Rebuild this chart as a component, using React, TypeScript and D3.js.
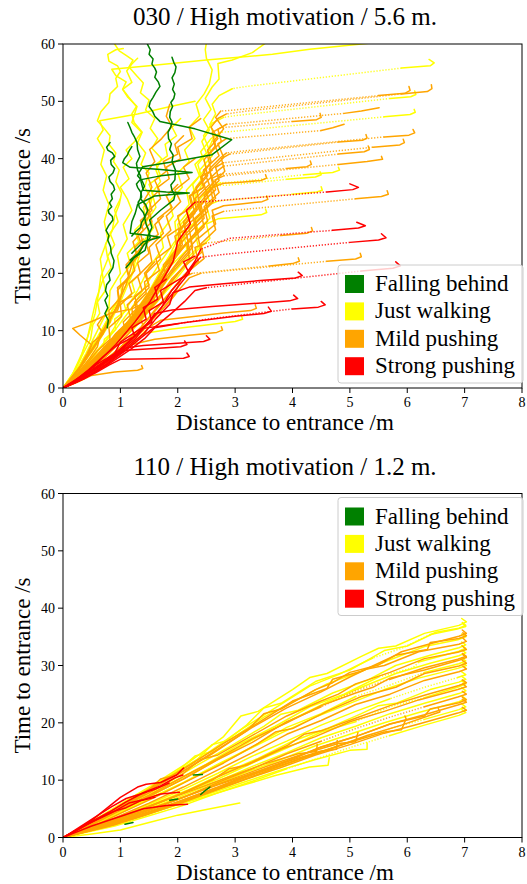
import React from 'react';
import * as d3 from 'd3';

type Track = [string, number, number, number[][]];

const categoryKeys = ['G', 'Y', 'O', 'R'];
const categoryNames = ['Falling behind', 'Just walking', 'Mild pushing', 'Strong pushing'];
const categoryColors = ['#008000', '#ffff00', '#ffa500', '#ff0000'];
const xTicks = [0, 1, 2, 3, 4, 5, 6, 7, 8];
const yTicks = [0, 10, 20, 30, 40, 50, 60];
const panelTitles = ['030 / High motivation / 5.6 m.', '110 / High motivation / 1.2 m.'];
const xLabel = 'Distance to entrance /m';
const yLabel = 'Time to entrance /s';

// [category, dotted-from index, dotted-to index, [distance m, time s]...]
const topTracks: Track[] = [
  ['Y', 3, 5, [[6.38,57.3],[6.47,56.7],[6.4,56.2],[5.9,55.8],[3.2,52.6],[2.95,52.2],[2.72,51.0],[2.6,49.5],[2.66,47.8],[2.56,46],[2.64,44],[2.55,42],[2.6,40.5],[2.38,38],[2.42,35.5],[2.3,33],[2.12,29],[2.0,26],[1.85,23],[1.6,18.5],[1.35,14],[1.0,9.5],[0.6,5],[0.25,2],[0,0]]],
  ['O', 3, 5, [[6.42,52.9],[6.43,52.2],[6.35,51.7],[5.9,51.3],[3.2,48.3],[2.85,47.8],[2.7,47.0],[2.58,45.5],[2.7,43.5],[2.52,41.5],[2.58,39.5],[2.42,37],[2.45,35],[2.22,33.5],[2.3,30.5],[2.0,27],[2.05,24.5],[1.78,21],[1.55,17],[1.25,12.5],[0.85,8],[0.45,3.5],[0,0]]],
  ['O', 3, 5, [[6.03,52.6],[6.05,51.9],[5.96,51.4],[5.5,51.0],[3.0,48.5],[2.75,48.3],[2.66,47.2],[2.8,45.2],[2.62,43],[2.72,40.5],[2.45,38],[2.55,35.5],[2.3,33],[2.4,30.5],[2.12,28],[2.18,25.5],[1.9,22.5],[1.72,19],[1.42,14.5],[1.05,9.5],[0.65,5.2],[0.28,2],[0,0]]],
  ['Y', 3, 5, [[6.13,51.8],[6.15,51.2],[6.06,50.8],[5.7,50.5],[3.0,47.5],[2.8,47.2],[2.6,46.2],[2.45,44],[2.55,41.5],[2.35,39],[2.42,36.5],[2.25,34],[2.32,31.5],[2.05,28.5],[2.1,26],[1.82,22.5],[1.58,18],[1.28,13],[0.88,7.5],[0.42,3],[0,0]]],
  ['O', 2, 4, [[5.51,48.9],[5.2,48.3],[4.9,47.9],[3.1,46.2],[2.85,46.0],[2.7,45.1],[2.76,43],[2.52,40.5],[2.58,38],[2.32,35],[2.38,32],[2.1,29],[2.16,26.5],[1.88,23],[1.62,18.5],[1.32,14],[0.98,9.5],[0.58,5],[0.22,1.6],[0,0]]],
  ['Y', 3, 5, [[6.12,48.6],[6.14,48.1],[6.05,47.7],[5.6,47.3],[3.0,44.8],[2.75,44.6],[2.58,43.5],[2.4,41.2],[2.5,38.5],[2.26,35.5],[2.33,32.5],[2.0,28.5],[2.06,25.5],[1.76,21.5],[1.48,16.5],[1.12,11.5],[0.72,6.5],[0.32,2.5],[0,0]]],
  ['O', 3, 5, [[4.48,47.9],[4.5,47.2],[4.42,46.8],[4.0,46.5],[3.0,45.6],[2.75,45.4],[2.6,44.6],[2.66,42.3],[2.46,39.8],[2.52,37],[2.26,34],[2.33,31],[2.02,27.5],[2.08,25],[1.8,21.5],[1.52,17],[1.22,12.5],[0.82,8],[0.4,3.5],[0,0]]],
  ['O', 2, 4, [[4.9,46.0],[4.7,45.4],[4.5,44.9],[3.1,43.7],[2.85,43.5],[2.7,42.6],[2.8,40.2],[2.56,37.8],[2.62,35],[2.36,32],[2.12,28.5],[2.18,25.5],[1.86,21.5],[1.6,17.5],[1.32,13.5],[0.96,9.2],[0.56,5],[0.2,1.8],[0,0]]],
  ['O', 3, 5, [[6.1,45.1],[6.13,44.5],[6.03,44.1],[5.6,43.8],[3.1,41.3],[2.85,41.0],[2.75,40.2],[2.55,38.2],[2.62,35.8],[2.36,33],[2.42,30],[2.06,26],[1.92,22],[1.62,18],[1.36,14],[1.02,9.5],[0.62,5.2],[0.26,2],[0,0]]],
  ['O', 3, 5, [[5.28,44.2],[5.3,43.6],[5.22,43.2],[4.8,42.9],[3.1,41.0],[2.9,40.8],[2.76,40.0],[2.82,37.8],[2.56,35.2],[2.62,32.5],[2.3,29.3],[2.36,26.3],[2.06,22.8],[1.76,18.8],[1.5,15.2],[1.16,10.8],[0.76,6.6],[0.36,2.6],[0,0]]],
  ['O', 3, 5, [[5.93,43.4],[5.95,42.8],[5.87,42.4],[5.4,42.0],[3.0,39.5],[2.8,39.3],[2.66,38.5],[2.72,36.2],[2.46,33.6],[2.52,30.8],[2.2,27.6],[2.26,24.6],[1.96,21.2],[1.7,17.2],[1.4,13.2],[1.06,9.2],[0.66,5.2],[0.3,2],[0,0]]],
  ['O', 3, 5, [[5.32,42.2],[5.34,41.6],[5.25,41.2],[4.8,40.8],[3.0,38.9],[2.8,38.7],[2.7,37.9],[2.46,35.6],[2.52,33.2],[2.26,30.2],[2.32,27.2],[2.0,23.6],[1.82,20.2],[1.56,16.2],[1.26,12.2],[0.9,8.2],[0.5,4.2],[0.2,1.5],[0,0]]],
  ['O', 3, 5, [[5.55,40.4],[5.57,39.9],[5.3,39.5],[4.8,39.0],[3.0,37.2],[2.8,37.0],[2.65,36.3],[2.72,34.1],[2.46,31.6],[2.52,29.1],[2.22,26.1],[2.27,23.2],[1.96,19.6],[1.72,16.1],[1.42,12.6],[1.06,8.6],[0.66,4.6],[0.3,1.8],[0,0]]],
  ['O', 3, 5, [[4.31,39.6],[4.33,39.0],[4.25,38.6],[3.9,38.3],[2.95,37.4],[2.75,37.3],[2.6,36.6],[2.66,34.6],[2.4,32.1],[2.46,29.6],[2.16,26.6],[2.21,23.6],[1.9,20.1],[1.62,16.6],[1.36,13.1],[1.0,9.1],[0.6,5.1],[0.25,2],[0,0]]],
  ['Y', 3, 5, [[4.8,38.5],[4.82,38.0],[4.7,37.6],[4.2,37.2],[2.95,35.9],[2.75,35.8],[2.56,35.0],[2.36,32.6],[2.42,30.1],[2.1,27.1],[2.16,24.1],[1.86,21.1],[1.6,17.6],[1.3,13.6],[1.0,9.6],[0.6,5.6],[0.25,2],[0,0]]],
  ['Y', 3, 5, [[4.48,37.7],[4.5,37.2],[4.4,36.8],[3.9,36.4],[2.9,35.4],[2.7,35.3],[2.5,34.5],[2.56,32.1],[2.3,29.6],[2.36,27.1],[2.06,24.1],[1.8,20.6],[1.56,17.1],[1.26,13.1],[0.96,9.1],[0.56,5.1],[0.2,1.5],[0,0]]],
  ['O', -1, -1, [[3.53,37.2],[3.55,36.6],[3.45,36.2],[3.1,35.9],[2.8,35.7],[2.6,35.0],[2.66,33.1],[2.4,30.6],[2.46,28.1],[2.16,25.1],[2.21,22.1],[1.9,19.1],[1.66,15.6],[1.36,12.1],[1.0,8.6],[0.6,4.6],[0.25,1.8],[0,0]]],
  ['R', 3, 5, [[5.0,35.6],[5.15,35.0],[5.05,34.6],[4.6,34.2],[2.6,32.6],[2.3,32.4],[2.15,31.0],[2.22,28.6],[2.0,25.6],[1.92,22.1],[1.72,18.6],[1.52,15.1],[1.26,11.6],[0.92,7.6],[0.52,3.6],[0.2,1.2],[0,0]]],
  ['Y', 3, 5, [[4.5,35.1],[4.52,34.5],[4.42,34.2],[4.0,33.8],[2.9,32.8],[2.7,32.6],[2.5,31.8],[2.56,29.6],[2.3,27.1],[2.36,24.6],[2.06,21.6],[1.8,18.6],[1.56,15.1],[1.26,11.6],[0.9,7.6],[0.5,3.6],[0.2,1.2],[0,0]]],
  ['O', 3, 5, [[5.65,34.4],[5.67,33.8],[5.55,33.4],[5.1,33.0],[3.0,31.0],[2.8,30.8],[2.6,30.0],[2.66,27.6],[2.4,25.1],[2.46,22.6],[2.16,20.1],[1.9,17.1],[1.66,14.1],[1.36,10.6],[1.0,7.1],[0.6,3.6],[0.25,1.2],[0,0]]],
  ['O', -1, -1, [[3.55,33.5],[3.57,32.9],[3.47,32.5],[3.1,32.1],[2.8,31.8],[2.6,31.0],[2.66,28.6],[2.36,26.1],[2.41,23.6],[2.1,21.1],[1.86,18.1],[1.6,15.1],[1.3,11.6],[0.96,8.1],[0.56,4.1],[0.2,1.4],[0,0]]],
  ['Y', -1, -1, [[3.53,31.2],[3.55,30.6],[3.45,30.2],[3.0,29.8],[2.7,29.5],[2.5,28.6],[2.56,26.1],[2.3,23.6],[2.1,20.6],[1.86,17.6],[1.56,14.1],[1.26,10.6],[0.9,7.1],[0.5,3.6],[0.2,1.2],[0,0]]],
  ['R', 3, 5, [[5.12,28.9],[5.27,28.3],[5.15,27.9],[4.7,27.5],[2.9,26.1],[2.4,24.2],[2.3,22.1],[2.12,19.6],[1.9,17.1],[1.72,14.1],[1.46,11.1],[1.16,8.1],[0.8,5.1],[0.4,2.2],[0,0]]],
  ['O', 3, 5, [[4.33,28.0],[4.35,27.4],[4.25,27.0],[3.8,26.6],[2.7,25.5],[2.5,25.3],[2.3,24.5],[2.36,22.1],[2.1,19.6],[1.86,16.6],[1.6,13.6],[1.36,10.6],[1.0,7.1],[0.6,3.8],[0.25,1.3],[0,0]]],
  ['R', 3, 5, [[5.55,26.9],[5.63,26.2],[5.5,25.8],[5.0,25.4],[2.8,23.3],[2.4,22.8],[2.3,21.8],[2.16,19.6],[1.96,17.1],[1.76,14.6],[1.56,12.1],[1.3,9.6],[1.0,6.6],[0.6,3.5],[0.25,1.2],[0,0]]],
  ['O', 3, 5, [[5.18,23.5],[5.2,22.9],[5.1,22.5],[4.6,22.1],[2.7,20.3],[2.4,20.0],[2.2,19.2],[2.02,17.1],[1.86,15.1],[1.62,12.6],[1.4,10.1],[1.1,7.6],[0.76,4.6],[0.36,1.8],[0,0]]],
  ['O', 3, 5, [[4.1,22.7],[4.12,22.1],[4.0,21.7],[3.6,21.3],[2.5,20.2],[2.25,20.0],[2.06,19.1],[1.96,16.6],[1.76,14.1],[1.52,11.6],[1.26,9.1],[0.96,6.6],[0.6,3.8],[0.25,1.3],[0,0]]],
  ['R', 3, 5, [[5.8,22.0],[5.88,21.3],[5.75,20.9],[5.2,20.4],[2.9,17.9],[2.5,17.5],[2.3,17.0],[2.12,15.1],[1.9,13.1],[1.66,11.1],[1.4,9.1],[1.1,6.6],[0.76,4.1],[0.36,1.6],[0,0]]],
  ['R', -1, -1, [[4.1,20.2],[4.17,19.6],[4.05,19.2],[3.5,18.8],[2.8,18.2],[2.2,17.6],[1.92,16.6],[1.86,14.6],[1.62,12.1],[1.42,9.6],[1.12,7.1],[0.76,4.2],[0.36,1.6],[0,0]]],
  ['R', -1, -1, [[4.02,16.2],[4.09,15.6],[3.95,15.2],[3.4,14.8],[2.6,14.2],[1.9,13.6],[1.6,13.0],[1.46,11.1],[1.26,8.6],[0.96,6.1],[0.6,3.5],[0.25,1.2],[0,0]]],
  ['R', 3, 5, [[4.5,15.1],[4.57,14.5],[4.45,14.1],[4.0,13.8],[2.5,12.0],[2.0,11.2],[1.6,10.5],[1.42,8.6],[1.16,6.6],[0.8,4.2],[0.4,1.8],[0,0]]],
  ['O', -1, -1, [[3.35,14.5],[3.37,13.9],[3.27,13.5],[2.8,13.1],[2.2,12.4],[1.7,11.8],[1.5,10.6],[1.3,8.6],[1.0,6.1],[0.66,3.5],[0.3,1.3],[0,0]]],
  ['R', -1, -1, [[3.58,14.1],[3.63,13.4],[3.5,13.0],[3.0,12.5],[2.2,11.5],[1.4,10.4],[1.22,8.8],[1.0,6.8],[0.7,4.5],[0.35,2],[0,0]]],
  ['Y', -1, -1, [[3.11,12.6],[3.13,12.0],[3.0,11.6],[2.5,11.0],[1.9,10.3],[1.4,9.5],[1.2,7.8],[0.96,5.8],[0.6,3.5],[0.25,1.3],[0,0]]],
  ['O', -1, -1, [[2.76,10.7],[2.78,10.1],[2.68,9.7],[2.2,9.2],[1.6,8.5],[1.2,7.6],[1.0,6.0],[0.76,4.2],[0.46,2.5],[0.15,0.8],[0,0]]],
  ['R', -1, -1, [[2.5,9.1],[2.56,8.5],[2.45,8.1],[2.0,7.8],[1.4,7.4],[1.1,7.0],[0.9,5.5],[0.66,3.8],[0.36,2],[0,0]]],
  ['R', -1, -1, [[2.12,8.2],[2.16,7.6],[2.05,7.2],[1.6,6.9],[1.1,6.6],[0.86,5.4],[0.6,3.8],[0.3,1.8],[0,0]]],
  ['R', -1, -1, [[2.16,6.1],[2.2,5.5],[2.1,5.2],[1.6,5.1],[1.0,5.0],[0.8,4.0],[0.56,2.6],[0.25,1.1],[0,0]]],
  ['O', -1, -1, [[1.37,3.9],[1.39,3.4],[1.3,3.1],[0.9,2.8],[0.5,2.2],[0.25,1.0],[0,0]]],
  // green (falling behind)
  ['G', -1, -1, [[1.45,60.5],[1.48,59.8],[1.52,59.0],[1.5,58.2],[1.57,57.4],[1.55,56.5],[1.6,55.8],[1.63,55.1],[1.6,54.2],[1.66,53.4],[1.69,52.6],[1.62,51.6],[1.57,50.7],[1.52,49.9],[1.5,49.1],[1.56,48.3],[1.6,47.4],[1.69,46.5],[2.3,45.2],[2.94,43.3],[2.6,40.7],[2.0,39.6],[1.39,38.6],[1.34,37.8],[1.3,37.0],[1.38,36.1],[1.42,35.2],[1.36,34.1],[1.35,33.0],[1.44,32.0],[1.48,31.0],[1.42,29.8],[1.45,28.5],[1.5,27.4],[1.52,26.2],[1.4,24.8],[1.32,23.5],[1.17,22.3]]],
  ['G', -1, -1, [[1.9,57.7],[1.93,56.8],[1.97,56.0],[1.95,55.0],[1.9,54.1],[1.94,53.0],[1.91,52.1],[1.95,51.3],[1.93,50.5],[1.88,49.8],[1.91,49.1],[1.87,48.2],[1.86,47.2],[1.9,46.4],[1.88,45.6],[1.83,44.6],[1.84,43.5],[1.89,42.6],[1.86,41.6],[1.92,40.6],[1.9,39.5],[1.96,38.0],[1.95,36.3],[1.88,35.4],[1.9,34.5],[1.95,33.6],[1.93,32.8],[1.7,31],[1.51,29.3],[1.55,28],[1.48,26.5],[1.46,25.2],[1.43,24.0],[1.25,22.8],[1.1,21]]],
  ['G', -1, -1, [[0.82,42.8],[0.76,42.0],[0.78,41.5],[0.86,41.0],[0.9,40.4],[0.83,39.7],[0.84,39],[0.9,38.3],[0.87,37.5],[0.8,36.8],[0.82,36],[0.88,35.3],[0.9,34.6],[0.84,33.8],[0.86,33],[0.81,32.3],[0.85,31.6],[0.79,31.0],[0.8,30.5],[0.86,29.9],[0.87,29.3],[0.8,28.4],[0.75,27.5],[0.8,26.6],[0.78,25.8],[0.83,24.6],[0.84,23.5],[0.89,22.2],[0.87,21],[0.8,19.8],[0.82,18.8],[0.76,18],[0.74,17],[0.78,16.1],[0.73,15.3],[0.78,14],[0.73,13],[0.79,11.8],[0.77,10.5]]],
  ['G', -1, -1, [[1.2,42.1],[1.15,41.3],[1.12,40.6],[1.07,40.0],[1.04,39.3],[1.17,38.5],[1.7,38.1],[2.25,37.6],[1.7,37.0],[1.34,36.3],[1.28,35.6],[1.3,35],[1.36,34.1],[1.37,33.3],[1.31,32.4],[1.33,31.5],[1.4,30.6],[1.43,29.8],[1.37,28.9],[1.35,28],[1.26,27.2],[1.2,26.5]]],
  ['G', -1, -1, [[1.13,46.3],[1.17,45.4],[1.2,44.6],[1.25,43.7],[1.29,42.8],[1.3,41.6],[1.34,40.4],[1.28,39.2],[1.3,38.0],[1.35,37.0],[1.36,36],[1.4,34.5],[1.8,34.2],[2.2,34.0],[1.6,33.5],[1.3,32],[1.26,30.5],[1.2,29],[1.17,27],[1.5,26.6],[1.69,26.3],[1.4,25.5],[1.2,23.5]]],
  // yellow tracks near the top left
  ['Y', -1, -1, [[1.05,59.2],[0.92,59.0],[0.78,58.2],[0.8,57.0],[0.95,56.2],[1.0,55.2],[0.92,54],[0.95,52.6],[0.82,51.3],[0.8,49.8],[0.66,48.2],[0.6,46.6],[0.7,45.5],[0.82,44],[0.8,42.5],[0.92,41],[0.88,39.5],[0.98,38],[0.92,36],[1.02,34],[0.98,32],[0.9,30],[0.86,27.5],[0.74,25],[0.78,22.5],[0.66,19.5],[0.62,16.5],[0.56,13],[0.45,9.5],[0.33,6],[0.17,2.5],[0,0]]],
  ['Y', -1, -1, [[5.4,60.2],[4.3,59.1],[3.65,58.2],[2.5,57.2],[1.5,56.2],[0.85,55.6],[0.92,54.5],[1.1,53.4],[1.04,52.1],[1.14,50.8],[1.28,49.1],[1.2,47.8],[1.24,46.3],[1.38,44.6],[1.3,42.8],[1.44,41],[1.36,39],[1.5,37.5],[1.42,35],[1.55,33],[1.48,30.5],[1.58,28],[1.4,25.5],[1.3,22],[1.15,18.5],[1.0,15],[0.8,11],[0.55,7],[0.3,3.5],[0,0]]],
  ['Y', -1, -1, [[3.55,60.3],[3.3,58.5],[2.95,57.2],[2.7,56.6],[2.72,53.9],[2.6,52.5],[2.48,50.5],[2.58,48.6],[2.45,46.8],[2.55,45],[2.42,43],[2.5,41],[2.3,39],[2.38,37],[2.15,34.5],[2.2,32],[1.95,29],[1.98,26],[1.7,22],[1.45,18],[1.2,14],[0.9,10],[0.55,6],[0.25,2.5],[0,0]]],
  ['Y', -1, -1, [[2.5,60.3],[2.48,59],[2.5,57.5],[2.6,55.5],[2.55,53],[2.46,51.3],[2.32,49.5],[2.38,47.5],[2.2,45.5],[2.3,43.5],[2.12,41.5],[2.2,39.5],[2.0,37.5],[2.08,35],[1.85,32.5],[1.92,30],[1.7,27],[1.75,24.5],[1.5,21],[1.3,17],[1.05,13],[0.8,9],[0.5,5],[0.2,1.8],[0,0]]],
  ['Y', -1, -1, [[1.3,57.5],[1.2,56.5],[1.11,55.3],[1.2,53.3],[1.04,52.1],[1.13,50.7],[1.29,49.1],[1.2,46.3],[1.37,44.6],[1.25,43],[1.1,41.5],[1.2,40],[1.05,38.5],[1.15,36.5],[1.0,35],[1.12,33],[1.2,31],[1.05,28.5],[1.12,26],[0.95,23],[1.0,20],[0.82,17],[0.8,14],[0.6,10],[0.4,6],[0.2,2.5],[0,0]]],
  ['Y', -1, -1, [[0.9,60.0],[0.98,58.8],[1.1,58.0],[1.22,57.2],[1.15,56],[1.28,54.5],[1.4,53.2],[1.35,51.5],[1.5,50.2],[1.44,48.5],[1.6,47],[1.52,45.3],[1.65,43.5],[1.55,41.8],[1.72,40],[1.62,38],[1.7,36],[1.55,34],[1.62,31.5],[1.45,29],[1.5,26.5],[1.3,23.5],[1.2,20],[1.0,16],[0.78,12],[0.55,8],[0.3,4],[0,0]]],
  ['Y', -1, -1, [[2.3,50.0],[1.91,49.2],[1.3,47.8],[0.64,46.6],[0.7,45],[0.6,43.5],[0.72,41.5],[0.66,39],[0.76,37],[0.7,34.5],[0.8,32],[0.72,29],[0.78,26],[0.65,22.5],[0.7,19],[0.58,15.5],[0.5,12],[0.42,8.5],[0.3,5],[0.15,2],[0,0]]],
  ['Y', -1, -1, [[1.0,33],[0.9,31],[0.96,29],[0.82,27],[0.9,25],[0.78,23],[0.84,21],[0.7,19],[0.74,17],[0.6,15],[0.64,13],[0.52,11],[0.48,8.5],[0.35,6],[0.2,3],[0,0]]],
  ['Y', -1, -1, [[2.05,47],[1.9,45.5],[1.98,44],[1.78,42.5],[1.82,40.5],[1.62,39],[1.7,37],[1.5,35.5],[1.58,33.5],[1.4,31.5],[1.45,29.5],[1.25,27.5],[1.32,25.5],[1.12,23.5],[1.18,21.5],[1.0,19],[1.02,16.5],[0.85,13.5],[0.7,10.5],[0.5,7],[0.3,3.5],[0,0]]],
  ['Y', -1, -1, [[1.35,20],[1.2,18.5],[1.25,16.8],[1.05,15.2],[1.1,13.5],[0.9,12],[0.92,10.2],[0.72,8.5],[0.7,6.5],[0.5,4.5],[0.3,2.4],[0,0]]],
  // orange / red tracks inside the crowd
  ['O', -1, -1, [[1.86,49.5],[1.8,47.4],[1.9,45.6],[1.72,43.5],[1.51,41.6],[1.6,39.5],[1.45,37.5],[1.55,35],[1.4,32.5],[1.5,30],[1.3,27],[1.38,24.5],[1.2,21.5],[1.1,18],[0.95,14.5],[0.75,10.5],[0.5,6.5],[0.25,3],[0,0]]],
  ['O', -1, -1, [[2.3,40],[2.1,38.5],[2.2,36.5],[1.95,34.5],[2.05,32.5],[1.8,30],[1.88,27.5],[1.62,25],[1.7,22.5],[1.45,20],[1.5,17.5],[1.25,15],[1.3,12.5],[1.05,10],[0.8,7],[0.5,4],[0.2,1.5],[0,0]]],
  ['O', -1, -1, [[2.0,35.5],[1.8,33.5],[1.9,31.5],[1.65,29.5],[1.75,27],[1.5,24.5],[1.55,22],[1.3,19.5],[1.38,17],[1.12,14.5],[1.18,12],[0.92,9.5],[0.7,6.5],[0.45,3.8],[0.2,1.5],[0,0]]],
  ['O', -1, -1, [[1.5,15.2],[1.2,13.8],[0.82,13.0],[0.5,11.6],[0.17,10.4],[0.3,9.2],[0.5,7.5],[0.4,5],[0.2,2.2],[0,0]]],
  ['O', -1, -1, [[2.2,28],[1.95,26.5],[2.0,24],[1.75,21.5],[1.8,19.5],[1.55,17],[1.6,15],[1.35,12.5],[1.4,10.5],[1.1,8],[0.85,5.5],[0.55,3.2],[0.25,1.2],[0,0]]],
  ['O', -1, -1, [[1.6,22],[1.42,20],[1.5,18],[1.25,16],[1.3,14],[1.05,11.5],[1.1,9.5],[0.85,7],[0.6,4.8],[0.35,2.5],[0,0]]],
  ['O', -1, -1, [[2.4,47],[2.2,45.5],[2.25,43.5],[2.0,42],[2.05,40],[1.8,38.5],[1.85,36.5],[1.65,35],[1.7,33],[1.5,31],[1.55,29],[1.35,27],[1.4,25],[1.2,22.5],[1.25,20.5],[1.05,18],[1.0,15.5],[0.85,12.5],[0.7,9.5],[0.5,6.5],[0.3,3.5],[0.1,1],[0,0]]],
  ['O', -1, -1, [[2.1,44],[1.95,42.5],[2.0,40.8],[1.75,39.5],[1.8,37.8],[1.6,36.2],[1.68,34.5],[1.5,32.8],[1.55,31],[1.35,29.2],[1.4,27.5],[1.22,25.5],[1.28,23.5],[1.1,21.5],[1.15,19.5],[0.95,17],[0.98,14.5],[0.8,12],[0.65,9],[0.45,6],[0.25,3],[0,0]]],
  ['O', -1, -1, [[2.6,38],[2.4,36.8],[2.45,35],[2.2,33.5],[2.25,31.5],[2.0,30],[2.05,28],[1.82,26.5],[1.88,24.5],[1.62,22.5],[1.68,20.5],[1.42,18.5],[1.45,16.5],[1.2,14],[1.22,12],[0.98,10],[0.75,7.5],[0.5,4.8],[0.25,2.2],[0,0]]],
  ['O', -1, -1, [[1.75,30],[1.6,28.5],[1.66,26.8],[1.45,25.2],[1.5,23.5],[1.3,21.8],[1.35,20],[1.15,18.2],[1.2,16.5],[1.0,14.5],[1.02,12.5],[0.8,10.5],[0.82,8.5],[0.6,6.5],[0.4,4],[0.2,1.8],[0,0]]],
  ['O', -1, -1, [[1.4,26],[1.25,24.5],[1.3,22.8],[1.1,21],[1.15,19.2],[0.95,17.5],[0.98,15.5],[0.8,13.5],[0.82,11.5],[0.65,9.5],[0.6,7.2],[0.45,5],[0.25,2.5],[0,0]]],
  ['O', -1, -1, [[1.2,16],[1.0,15],[0.95,13.5],[0.7,12.5],[0.6,11],[0.7,9.5],[0.52,8],[0.42,6],[0.3,3.8],[0.12,1.5],[0,0]]],
  ['R', -1, -1, [[2.3,23],[2.1,22],[2.2,20],[1.95,18.5],[1.7,17],[1.75,15],[1.5,13.5],[1.55,11.5],[1.3,10],[1.0,8],[0.9,6],[0.6,4.2],[0.3,2],[0,0]]],
  ['R', -1, -1, [[1.8,19],[1.6,17.5],[1.65,15.5],[1.4,14],[1.45,12],[1.2,10.5],[1.25,9],[0.95,7.5],[0.7,5.5],[0.45,3.2],[0.2,1.2],[0,0]]],
];

const bottomTracks: Track[] = [
  ['Y', -1, -1, [[6.95,38.2],[7.03,37.6],[6.9,37.0],[6.3,35.6],[5.8,33.4],[5.5,33.0],[5.2,31.6],[4.6,28.6],[4.3,27.9],[4.0,25.8],[3.4,22.0],[3.1,21.2],[2.8,17.6],[2.2,13.2],[1.6,9.4],[1.0,5.8],[0.5,2.8],[0,0]]],
  ['Y', -1, -1, [[6.96,37.5],[7.02,37.0],[6.9,36.5],[6.5,35.8],[6.0,33.4],[5.6,32.6],[5.0,29.2],[4.4,27.2],[3.8,23.4],[3.5,22.6],[3.2,19.6],[2.6,15.0],[2.3,14.2],[2.0,11.6],[1.4,7.8],[0.8,4.4],[0,0]]],
  ['Y', 3, 5, [[6.97,37.3],[7.02,36.8],[6.85,36.3],[6.4,35.4],[5.9,33.0],[5.4,31.3],[4.8,28.4],[4.3,26.4],[3.7,22.6],[3.1,18.8],[2.5,14.6],[1.9,11.0],[1.3,7.4],[0.7,3.8],[0,0]]],
  ['O', -1, -1, [[6.96,36.2],[7.03,35.6],[6.9,35.1],[6.4,33.8],[5.9,32.4],[5.5,30.1],[5.0,28.8],[4.7,27.0],[4.4,25.8],[3.8,22.4],[3.5,21.6],[3.2,18.6],[2.6,14.6],[2.0,11.0],[1.7,10.2],[1.4,7.4],[0.8,4.2],[0.3,1.4],[0,0]]],
  ['O', -1, -1, [[6.97,35.7],[7.03,35.2],[6.9,34.7],[6.4,34.0],[6.35,32.8],[5.8,31.8],[5.2,29.0],[4.7,27.6],[4.6,26.0],[4.0,23.8],[3.4,20.0],[2.8,16.4],[2.2,12.6],[1.6,9.0],[1.0,5.6],[0.5,2.6],[0,0]]],
  ['Y', -1, -1, [[6.95,35.5],[7.02,35.0],[6.88,34.5],[6.3,33.3],[5.7,31.0],[5.1,28.6],[4.6,26.8],[4.0,23.6],[3.5,21.0],[2.9,17.0],[2.6,16.2],[2.3,13.2],[1.7,9.6],[1.1,6.2],[0.6,3.2],[0,0]]],
  ['O', -1, -1, [[6.97,34.8],[7.03,34.2],[6.9,33.7],[6.2,32.4],[5.6,30.0],[5.3,29.4],[5.0,28.0],[4.5,25.4],[3.9,22.6],[3.3,19.2],[2.7,15.4],[2.1,11.6],[1.5,8.2],[0.9,4.8],[0.4,2.0],[0,0]]],
  ['Y', -1, -1, [[6.95,34.1],[7.02,33.6],[6.9,33.1],[6.4,31.8],[5.8,30.0],[5.3,27.4],[4.7,25.2],[4.1,22.2],[3.8,21.5],[3.5,19.4],[2.9,15.8],[2.3,12.4],[1.7,8.8],[1.1,5.6],[0.5,2.4],[0,0]]],
  ['Y', 3, 5, [[6.95,33.5],[7.02,33.0],[6.9,32.5],[6.2,30.6],[6.1,29.6],[5.5,28.0],[4.9,25.0],[4.3,22.8],[3.7,19.4],[3.1,16.4],[2.5,12.8],[1.9,9.6],[1.3,6.4],[0.7,3.2],[0,0]]],
  ['O', -1, -1, [[6.96,33.4],[7.03,32.8],[6.88,32.3],[6.3,31.2],[5.7,28.8],[5.1,26.8],[4.8,25.0],[4.5,23.8],[3.9,21.2],[3.3,17.8],[2.7,14.4],[2.4,13.6],[2.1,11.2],[1.5,7.8],[0.9,4.6],[0.4,1.8],[0,0]]],
  ['Y', -1, -1, [[6.95,32.7],[7.02,32.2],[6.9,31.7],[6.4,30.4],[5.8,28.6],[5.2,26.2],[4.6,23.6],[4.0,20.6],[3.4,17.6],[2.8,14.2],[2.2,10.8],[1.6,7.6],[1.0,4.4],[0.5,2.0],[0,0]]],
  ['O', 4, 6, [[6.96,32.1],[7.03,31.6],[6.88,31.1],[6.3,29.6],[5.7,27.6],[5.1,25.6],[4.5,22.8],[3.9,20.2],[3.3,16.6],[2.7,13.6],[2.1,10.2],[1.5,7.2],[0.9,4.2],[0.4,1.7],[0,0]]],
  ['O', -1, -1, [[6.97,31.9],[7.03,31.4],[6.9,30.9],[6.3,29.2],[5.7,27.8],[5.4,26.2],[5.1,25.2],[4.5,23.0],[3.9,20.0],[3.3,17.2],[2.7,13.8],[2.1,10.6],[1.5,7.4],[0.9,4.4],[0.4,1.8],[0,0]]],
  ['Y', 3, 5, [[6.95,31.3],[7.02,30.8],[6.9,30.3],[6.3,28.8],[5.7,26.6],[5.1,24.6],[4.5,21.6],[3.9,19.2],[3.3,15.8],[2.7,12.8],[2.1,9.6],[1.5,6.8],[0.9,3.8],[0.4,1.5],[0,0]]],
  ['O', -1, -1, [[6.96,30.9],[7.03,30.4],[6.9,29.9],[6.3,28.6],[5.8,26.2],[5.2,24.6],[4.6,22.0],[4.0,19.0],[3.7,18.4],[3.4,16.4],[2.8,13.0],[2.2,10.0],[1.6,7.0],[1.0,4.2],[0.5,1.8],[0,0]]],
  ['Y', -1, -1, [[6.96,30.5],[7.03,30.0],[6.88,29.5],[6.2,27.8],[5.6,25.8],[5.0,23.4],[4.4,21.0],[3.8,18.2],[3.2,15.2],[2.6,12.2],[2.0,9.0],[1.4,6.2],[0.8,3.4],[0,0]]],
  ['O', -1, -1, [[6.97,29.9],[7.03,29.4],[6.9,28.9],[6.3,27.4],[5.7,25.0],[5.1,23.2],[4.5,20.4],[3.9,18.0],[3.3,14.8],[2.7,11.8],[2.1,8.8],[1.5,6.0],[0.9,3.4],[0.4,1.4],[0,0]]],
  ['Y', 2, 4, [[6.95,28.9],[7.02,28.4],[6.88,27.9],[6.3,26.2],[5.7,24.2],[5.1,22.0],[4.5,19.6],[3.9,16.8],[3.3,14.2],[2.7,11.2],[2.1,8.4],[1.5,5.8],[0.9,3.2],[0,0]]],
  ['Y', -1, -1, [[6.95,28.1],[7.02,27.6],[6.9,27.1],[6.4,25.8],[5.8,23.4],[5.5,23.0],[5.2,21.6],[4.6,19.0],[4.0,16.8],[3.4,13.8],[2.8,11.2],[2.2,8.4],[1.6,6.0],[1.0,3.4],[0.5,1.5],[0,0]]],
  ['O', -1, -1, [[6.96,27.5],[7.03,27.0],[6.9,26.5],[6.3,24.8],[5.7,23.0],[5.1,20.8],[4.5,18.6],[4.2,18.0],[3.9,16.0],[3.3,13.2],[2.7,10.6],[2.1,7.8],[1.5,5.4],[0.9,3.0],[0,0]]],
  ['Y', 3, 5, [[6.95,27.3],[7.02,26.8],[6.9,26.3],[6.3,24.4],[5.7,22.8],[5.1,20.2],[4.5,18.4],[3.9,15.6],[3.3,13.0],[2.7,10.2],[2.1,7.8],[1.5,5.2],[0.9,2.8],[0,0]]],
  ['O', -1, -1, [[6.97,26.8],[7.03,26.3],[6.88,25.8],[6.2,24.0],[5.6,22.0],[5.0,20.2],[4.4,17.6],[3.8,15.4],[3.2,12.6],[2.9,12.0],[2.6,10.0],[2.0,7.4],[1.4,5.0],[0.8,2.6],[0,0]]],
  ['Y', -1, -1, [[6.95,26.1],[7.02,25.6],[6.9,25.1],[6.3,23.4],[5.7,21.6],[5.1,19.4],[4.5,17.4],[3.9,14.8],[3.3,12.4],[2.7,9.8],[2.1,7.4],[1.5,5.0],[0.9,2.8],[0,0]]],
  ['O', 3, 6, [[6.96,25.5],[7.03,25.0],[6.88,24.5],[6.3,22.8],[5.7,21.0],[5.1,19.0],[4.5,16.8],[3.9,14.6],[3.3,12.0],[2.7,9.6],[2.1,7.0],[1.5,4.8],[0.9,2.6],[0,0]]],
  ['Y', -1, -1, [[6.95,24.7],[7.02,24.2],[6.9,23.7],[6.2,21.8],[5.6,20.0],[5.0,18.0],[4.4,16.0],[3.8,13.6],[3.2,11.4],[2.6,9.0],[2.0,6.6],[1.4,4.4],[0.8,2.4],[0,0]]],
  ['O', -1, -1, [[6.96,24.5],[7.03,24.0],[6.9,23.5],[6.4,22.4],[6.3,21.2],[5.7,19.8],[5.1,17.6],[4.5,15.8],[3.9,13.2],[3.3,11.0],[2.7,8.6],[2.1,6.4],[1.5,4.2],[0.9,2.2],[0,0]]],
  ['O', -1, -1, [[6.96,24.1],[7.03,23.6],[6.88,23.1],[6.3,21.4],[5.7,19.8],[5.1,17.6],[4.5,15.8],[3.9,13.4],[3.3,11.2],[2.7,8.8],[2.1,6.6],[1.5,4.4],[0.9,2.4],[0,0]]],
  ['Y', 3, 5, [[6.95,23.3],[7.02,22.8],[6.9,22.3],[6.3,20.6],[5.7,19.0],[5.1,17.0],[4.5,15.0],[3.9,12.8],[3.3,10.6],[2.7,8.4],[2.1,6.2],[1.5,4.2],[0.9,2.2],[0,0]]],
  ['O', -1, -1, [[6.96,22.7],[7.03,22.2],[6.88,21.7],[6.2,19.8],[5.6,18.2],[5.0,16.2],[4.4,14.4],[3.8,12.2],[3.2,10.2],[2.6,8.0],[2.0,5.8],[1.4,3.8],[0.8,2.0],[0,0]]],
  ['Y', 4, 7, [[6.95,22.3],[7.02,21.8],[6.9,21.3],[6.3,19.6],[5.7,17.8],[5.1,16.0],[4.5,14.0],[3.9,12.0],[3.3,9.8],[2.7,7.8],[2.1,5.6],[1.5,3.8],[0.9,2.0],[0,0]]],
  // tracks starting inside the area
  ['O', -1, -1, [[6.54,22.5],[6.57,21.9],[6.45,21.5],[5.9,19.6],[5.3,17.8],[4.7,15.6],[4.1,13.6],[3.5,11.4],[2.9,9.2],[2.3,7.0],[1.7,5.0],[1.1,3.0],[0.5,1.3],[0,0]]],
  ['O', -1, -1, [[5.96,21.2],[5.98,20.7],[5.9,18.8],[5.6,18.4],[5.0,16.6],[4.4,14.6],[3.8,12.6],[3.2,10.6],[2.6,8.4],[2.0,6.2],[1.4,4.2],[0.8,2.2],[0,0]]],
  ['O', -1, -1, [[5.14,18.3],[5.13,17.9],[5.1,16.7],[4.8,16.4],[4.2,14.6],[3.6,12.6],[3.0,10.4],[2.4,8.2],[1.8,6.0],[1.2,4.0],[0.6,2.0],[0,0]]],
  ['Y', -1, -1, [[5.3,16.5],[5.3,15.4],[5.0,15.2],[4.4,13.6],[3.8,11.8],[3.2,9.8],[2.6,7.8],[2.0,5.8],[1.4,3.8],[0.8,2.0],[0,0]]],
  ['O', -1, -1, [[4.78,16.9],[4.77,15.4],[4.5,15.1],[3.9,13.2],[3.3,11.2],[2.7,9.2],[2.1,7.0],[1.5,4.8],[0.9,2.8],[0.4,1.2],[0,0]]],
  ['O', -1, -1, [[4.43,16.2],[4.42,15.0],[4.1,14.6],[3.5,12.8],[2.9,10.6],[2.3,8.4],[1.7,6.2],[1.1,4.0],[0.5,1.8],[0,0]]],
  ['Y', -1, -1, [[4.64,13.9],[4.62,12.6],[4.3,12.3],[3.7,10.8],[3.1,9.0],[2.5,7.2],[1.9,5.4],[1.3,3.6],[0.7,1.8],[0,0]]],
  ['Y', -1, -1, [[3.08,6.0],[2.5,4.9],[2.0,3.9],[1.5,2.6],[1.0,1.3],[0.5,0.6],[0,0]]],
  // strong pushing
  ['R', -1, -1, [[2.1,12.1],[1.98,10.9],[1.7,9.6],[1.45,9.3],[1.3,8.8],[1.0,7.0],[0.75,5.0],[0.5,3.0],[0.25,1.4],[0,0]]],
  ['R', -1, -1, [[2.09,10.9],[1.95,10.4],[1.7,9.0],[1.4,7.8],[1.1,6.2],[0.8,4.4],[0.5,2.8],[0.2,1.0],[0,0]]],
  ['R', -1, -1, [[2.03,7.9],[1.7,7.6],[1.4,6.6],[1.15,6.0],[0.9,4.6],[0.6,3.2],[0.3,1.6],[0,0]]],
  ['R', -1, -1, [[2.17,5.8],[1.8,5.6],[1.4,5.0],[1.1,4.0],[0.8,3.0],[0.5,2.0],[0.2,0.8],[0,0]]],
  ['R', -1, -1, [[1.85,9.5],[1.6,8.4],[1.35,7.6],[1.1,6.8],[0.85,5.4],[0.6,3.8],[0.35,2.2],[0.1,0.6],[0,0]]],
  ['R', -1, -1, [[1.6,7.0],[1.35,6.4],[1.1,5.2],[0.9,4.6],[0.65,3.4],[0.4,2.2],[0.15,0.8],[0,0]]],
  // falling behind
  ['G', -1, -1, [[2.56,8.8],[2.48,8.2],[2.4,7.5]]],
  ['G', -1, -1, [[2.0,6.7],[1.86,6.5]]],
  ['G', -1, -1, [[1.22,2.6],[1.08,2.3]]],
  ['G', -1, -1, [[2.43,11.0],[2.27,10.9]]],
];

const FONT = '"Liberation Serif", "Times New Roman", Times, serif';
const LEFT = 63;
const RIGHT = 522;
const drawOrder = ['Y', 'O', 'G', 'R'];

function colorOf(c: string) {
  return categoryColors[categoryKeys.indexOf(c)];
}

function Panel({ tracks, top, bottom, title, legendTop, id }: { tracks: Track[]; top: number; bottom: number; title: string; legendTop: number; id: string }) {
  const x = d3.scaleLinear().domain([0, 8]).range([LEFT, RIGHT]);
  const y = d3.scaleLinear().domain([0, 60]).range([bottom, top]);
  const line = d3.line<number[]>().x((d) => x(d[0])).y((d) => y(d[1])).curve(d3.curveLinear);
  const ordered = drawOrder.flatMap((c) => tracks.filter((t) => t[0] === c));
  const cx = 285;
  const midY = (top + bottom) / 2;

  return (
    <g>
      <defs>
        <clipPath id={id}>
          <rect x={LEFT} y={top} width={RIGHT - LEFT} height={bottom - top} />
        </clipPath>
      </defs>
      <text x={cx} y={top - 19} textAnchor="middle" fontFamily={FONT} fontSize={25}>{title}</text>
      <g clipPath={`url(#${id})`}>
        {ordered.map((t, i) => {
          const [c, d0, d1, pts] = t;
          const col = colorOf(c);
          if (d0 < 0) {
            return <path key={i} d={line(pts) || ''} fill="none" stroke={col} strokeWidth={1.5} strokeLinejoin="round" strokeLinecap="round" />;
          }
          return (
            <g key={i}>
              <path d={line(pts.slice(0, d0 + 1)) || ''} fill="none" stroke={col} strokeWidth={1.5} strokeLinejoin="round" strokeLinecap="round" />
              <path d={line(pts.slice(d0, d1 + 1)) || ''} fill="none" stroke={col} strokeWidth={1.5} strokeDasharray="1.3 1.7" opacity={0.85} />
              <path d={line(pts.slice(d1)) || ''} fill="none" stroke={col} strokeWidth={1.5} strokeLinejoin="round" strokeLinecap="round" />
            </g>
          );
        })}
      </g>
      <rect x={LEFT} y={top} width={RIGHT - LEFT} height={bottom - top} fill="none" stroke="#000" strokeWidth={1} />
      {xTicks.map((v) => (
        <g key={'x' + v}>
          <line x1={x(v)} x2={x(v)} y1={bottom} y2={bottom + 5} stroke="#000" strokeWidth={1} />
          <text x={x(v)} y={bottom + 19} textAnchor="middle" fontFamily={FONT} fontSize={14}>{v}</text>
        </g>
      ))}
      {yTicks.map((v) => (
        <g key={'y' + v}>
          <line x1={LEFT - 5} x2={LEFT} y1={y(v)} y2={y(v)} stroke="#000" strokeWidth={1} />
          <text x={LEFT - 8} y={y(v) + 5} textAnchor="end" fontFamily={FONT} fontSize={14}>{v}</text>
        </g>
      ))}
      <text x={cx} y={bottom + 42} textAnchor="middle" fontFamily={FONT} fontSize={23}>{xLabel}</text>
      <text transform={`translate(30,${midY}) rotate(-90)`} textAnchor="middle" fontFamily={FONT} fontSize={23}>{yLabel}</text>
      <g>
        <rect x={338} y={legendTop} width={185} height={118} rx={3} fill="#fff" fillOpacity={0.8} stroke="#cccccc" strokeWidth={1} />
        {categoryNames.map((n, i) => (
          <g key={n}>
            <rect x={345} y={legendTop + 10 + i * 27.4} width={19} height={18} fill={categoryColors[i]} />
            <text x={375} y={legendTop + 26 + i * 27.4} fontFamily={FONT} fontSize={23}>{n}</text>
          </g>
        ))}
      </g>
    </g>
  );
}

export default function App() {
  return (
    <svg width={527} height={884} style={{ position: 'absolute', left: 0, top: 0, background: '#fff' }}>
      <rect width={527} height={884} fill="#fff" />
      <Panel id="clipTop" tracks={topTracks} top={44} bottom={388} title={panelTitles[0]} legendTop={265} />
      <Panel id="clipBottom" tracks={bottomTracks} top={493.5} bottom={837.5} title={panelTitles[1]} legendTop={497.5} />
    </svg>
  );
}
